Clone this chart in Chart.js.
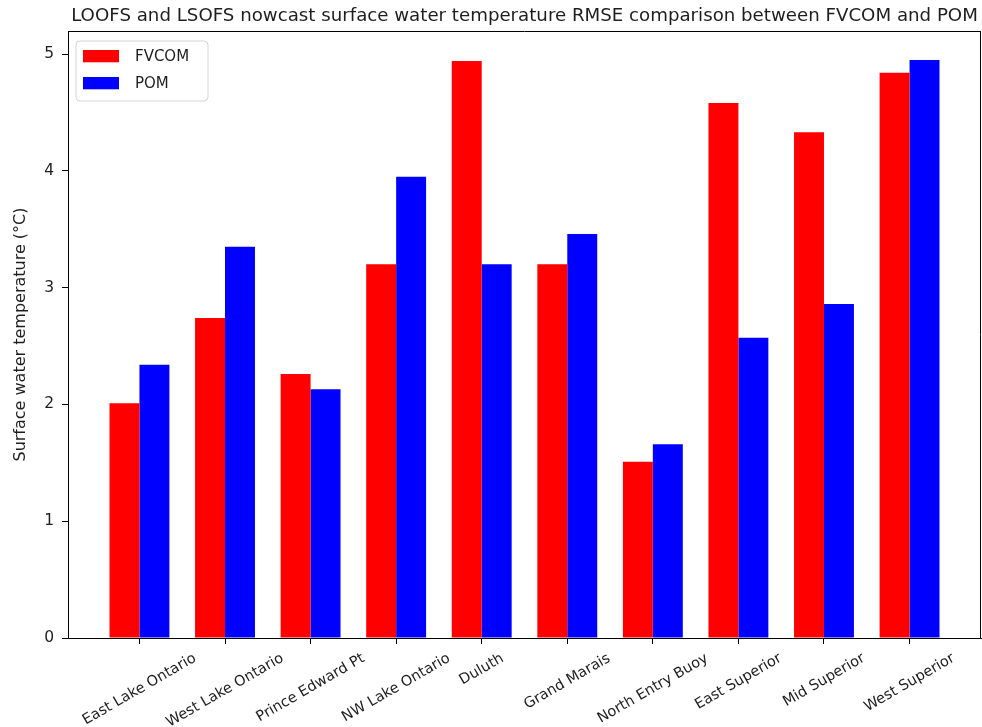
<!DOCTYPE html>
<html>
<head>
<meta charset="utf-8">
<script src="https://cdn.jsdelivr.net/npm/chart.js@4/dist/chart.umd.min.js"></script>
<style>
html, body { margin: 0; padding: 0; background: #ffffff; }
#wrap { width: 982px; height: 727px; }
</style>
</head>
<body>
<div id="wrap"><canvas id="c" width="982" height="727"></canvas></div>
<script>
// ---- data ----
const chartTitle = "LOOFS and LSOFS nowcast surface water temperature RMSE comparison between FVCOM and POM";
const yAxisLabel = "Surface water temperature (°C)";
const categories = ["East Lake Ontario", "West Lake Ontario", "Prince Edward Pt", "NW Lake Ontario", "Duluth",
                    "Grand Marais", "North Entry Buoy", "East Superior", "Mid Superior", "West Superior"];
const seriesNames = ["FVCOM", "POM"];
const fvcomValues = [2.01, 2.74, 2.26, 3.20, 4.94, 3.20, 1.51, 4.58, 4.33, 4.84];
const pomValues   = [2.34, 3.35, 2.13, 3.95, 3.20, 3.46, 1.66, 2.57, 2.86, 4.95];
const yTickValues = [0, 1, 2, 3, 4, 5];

// ---- style ----
const FONT = "'DejaVu Sans', sans-serif";
const TEXT = '#1e1e1e';
Chart.defaults.font.family = FONT;
Chart.defaults.font.size = 15;
Chart.defaults.color = TEXT;

// matplotlib-like auto limits (5% margins)
const n = categories.length;
const barW = 0.35;
const span = (n - 1) + 2 * barW;
const xMin = -barW - 0.05 * span;
const xMax = (n - 1) + barW + 0.05 * span;
const yMax = Math.max(...fvcomValues, ...pomValues) * 1.05;

const titlePlugin = {
  id: 'mplTitle',
  afterDraw(chart) {
    const { ctx, chartArea } = chart;
    ctx.save();
    ctx.font = '18.2px ' + FONT;
    ctx.fillStyle = TEXT;
    ctx.textAlign = 'center';
    ctx.textBaseline = 'alphabetic';
    ctx.fillText(chartTitle, (chartArea.left + chartArea.right) / 2, chartArea.top - 10);
    ctx.restore();
  }
};

const framePlugin = {
  id: 'frame',
  afterDatasetsDraw(chart) {
    const { ctx, chartArea } = chart;
    ctx.save();
    ctx.strokeStyle = '#000';
    ctx.lineWidth = 1;
    ctx.beginPath();
    ctx.moveTo(chartArea.left, chartArea.top + 0.5);
    ctx.lineTo(chartArea.right, chartArea.top + 0.5);
    ctx.moveTo(chartArea.right - 0.5, chartArea.top);
    ctx.lineTo(chartArea.right - 0.5, chartArea.bottom);
    ctx.stroke();
    ctx.restore();
  }
};

const xLabelPlugin = {
  id: 'xLabels',
  afterDraw(chart) {
    const s = chart.scales.x;
    const { ctx } = chart;
    const ang = Math.PI / 6;
    const y0 = chart.chartArea.bottom + 12;
    const h = 17;
    ctx.save();
    ctx.font = '14.5px ' + FONT;
    ctx.fillStyle = TEXT;
    ctx.textAlign = 'center';
    ctx.textBaseline = 'middle';
    s.ticks.forEach((t) => {
      const lab = categories[t.value];
      const x = s.getPixelForValue(t.value);
      const w = ctx.measureText(lab).width;
      const cy = y0 + (w * Math.sin(ang) + h * Math.cos(ang)) / 2;
      ctx.save();
      ctx.translate(x, cy);
      ctx.rotate(-ang);
      ctx.fillText(lab, 0, 0);
      ctx.restore();
    });
    ctx.restore();
  }
};

const legendPlugin = {
  id: 'mplLegend',
  afterDraw(chart) {
    const { ctx, chartArea } = chart;
    const x0 = chartArea.left + 8, y0 = chartArea.top + 10;
    const w = 132, h = 60, r = 4;
    ctx.save();
    ctx.beginPath();
    ctx.moveTo(x0 + r, y0);
    ctx.arcTo(x0 + w, y0, x0 + w, y0 + h, r);
    ctx.arcTo(x0 + w, y0 + h, x0, y0 + h, r);
    ctx.arcTo(x0, y0 + h, x0, y0, r);
    ctx.arcTo(x0, y0, x0 + w, y0, r);
    ctx.closePath();
    ctx.fillStyle = 'rgba(255,255,255,0.8)';
    ctx.fill();
    ctx.strokeStyle = '#d4d4d4';
    ctx.lineWidth = 1;
    ctx.stroke();
    ctx.font = '15px ' + FONT;
    ctx.textAlign = 'left';
    ctx.textBaseline = 'middle';
    chart.data.datasets.forEach((ds, i) => {
      const yc = y0 + 15 + i * 27;
      ctx.fillStyle = ds.backgroundColor;
      ctx.fillRect(x0 + 7, yc - 6, 36, 12.3);
      ctx.fillStyle = TEXT;
      ctx.fillText(ds.label, x0 + 59, yc + 1);
    });
    ctx.restore();
  }
};

new Chart(document.getElementById('c'), {
  type: 'bar',
  data: {
    datasets: [
      { label: seriesNames[0], data: fvcomValues.map((v, i) => ({ x: i, y: v })), backgroundColor: '#ff0000', borderWidth: 0 },
      { label: seriesNames[1], data: pomValues.map((v, i) => ({ x: i, y: v })), backgroundColor: '#0000ff', borderWidth: 0 }
    ]
  },
  options: {
    responsive: false,
    animation: false,
    devicePixelRatio: 1,
    layout: { padding: { top: 31, right: 1, left: 0, bottom: 0 } },
    datasets: { bar: { categoryPercentage: 0.7, barPercentage: 1.0, grouped: true } },
    plugins: { legend: { display: false }, title: { display: false }, tooltip: { enabled: false } },
    scales: {
      x: {
        type: 'linear', min: xMin, max: xMax, offset: false,
        afterBuildTicks: (s) => { s.ticks = categories.map((_, i) => ({ value: i })); },
        ticks: { display: false },
        grid: { display: true, offset: false, drawOnChartArea: false, drawTicks: true, tickLength: 6, tickColor: '#000', tickWidth: 1 },
        border: { display: true, color: '#000', width: 1, z: 1 },
        afterFit: (s) => { s.height = 89; }
      },
      y: {
        type: 'linear', min: 0, max: yMax,
        afterBuildTicks: (s) => { s.ticks = yTickValues.map((v) => ({ value: v })); },
        ticks: { padding: 8, font: { size: 15.5 }, color: TEXT, callback: (v) => String(v) },
        grid: { drawOnChartArea: false, drawTicks: true, tickLength: 6, tickColor: '#000', tickWidth: 1 },
        border: { display: true, color: '#000', width: 1, z: 1 },
        title: { display: true, text: yAxisLabel, font: { size: 16 }, color: TEXT, padding: { top: 11, bottom: 4 } },
        afterFit: (s) => { s.width = 68; }
      }
    }
  },
  plugins: [titlePlugin, framePlugin, xLabelPlugin, legendPlugin]
});
</script>
</body>
</html>
